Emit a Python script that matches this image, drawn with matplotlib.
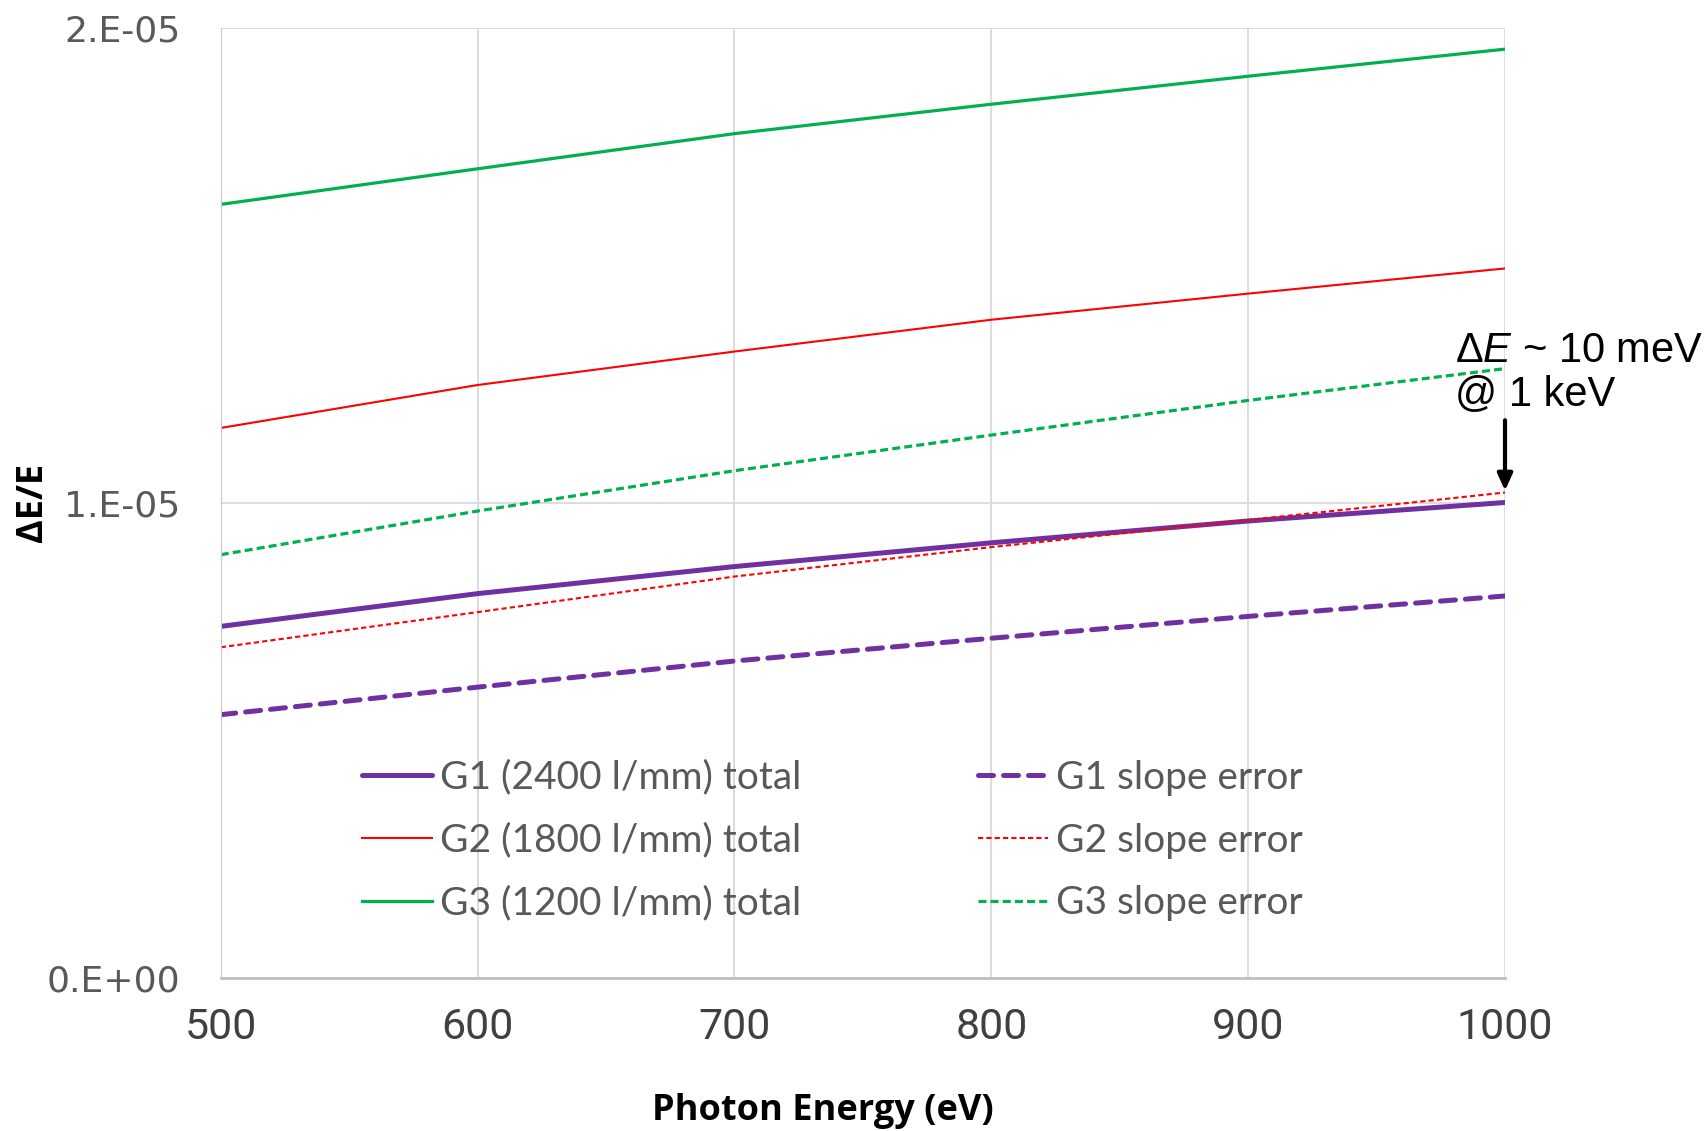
import numpy as np
import matplotlib
matplotlib.use("Agg")
import matplotlib.pyplot as plt

# photon energy (eV) and dE/E values
energy = [500, 600, 700, 800, 900, 1000]
g1_total = [7.40e-6, 8.09e-6, 8.66e-6, 9.16e-6, 9.62e-6, 1.001e-5]
g2_total = [1.158e-5, 1.2485e-5, 1.319e-5, 1.386e-5, 1.441e-5, 1.494e-5]
g3_total = [1.629e-5, 1.704e-5, 1.778e-5, 1.840e-5, 1.899e-5, 1.956e-5]
g1_slope = [5.54e-6, 6.12e-6, 6.67e-6, 7.15e-6, 7.61e-6, 8.04e-6]
g2_slope = [6.96e-6, 7.70e-6, 8.45e-6, 9.07e-6, 9.64e-6, 1.022e-5]
g3_slope = [8.91e-6, 9.83e-6, 1.068e-5, 1.143e-5, 1.216e-5, 1.283e-5]

yticks = [0, 1e-5, 2e-5]
ytick_labels = ["0.E+00", "1.E-05", "2.E-05"]

purple = "#7030A0"
red = "#FF0000"
green = "#00B050"

plt.rcParams["mathtext.fontset"] = "custom"
plt.rcParams["mathtext.rm"] = "Liberation Sans"
plt.rcParams["mathtext.it"] = "Liberation Sans:italic"

fig = plt.figure(figsize=(17.05, 11.31), dpi=100)
ax = fig.add_axes([0.1295, 0.1356, 0.7532, 0.8394])

ax.plot(energy, g1_total, color=purple, lw=3.6, solid_capstyle="round", label="G1 (2400 l/mm) total")
ax.plot(energy, g2_total, color=red, lw=1.5, label="G2 (1800 l/mm) total")
ax.plot(energy, g3_total, color=green, lw=2.3, label="G3 (1200 l/mm) total")
ax.plot(energy, g1_slope, color=purple, lw=3.6, dashes=(3, 2), dash_capstyle="round", label="G1 slope error")
ax.plot(energy, g2_slope, color=red, lw=1.5, dashes=(2.5, 1.5), label="G2 slope error")
ax.plot(energy, g3_slope, color=green, lw=2.3, dashes=(2.5, 1.3), label="G3 slope error")

ax.set_xlim(500, 1000)
ax.set_ylim(0, 2e-5)
ax.set_xticks(energy)
ax.set_yticks(yticks)
ax.set_yticklabels(ytick_labels)
ax.grid(True, color="#d9d9d9", lw=1.3)
ax.set_axisbelow(True)
for s in ["top", "right"]:
    ax.spines[s].set_visible(False)
ax.spines["left"].set_color("#c8c8c8")
ax.spines["bottom"].set_color("#c0c0c0")
ax.spines["bottom"].set_linewidth(2)
ax.tick_params(axis="both", length=0)
ax.tick_params(axis="x", pad=21, labelsize=31, labelcolor="#404040")
ax.tick_params(axis="y", pad=29, labelsize=26, labelcolor="#595959")
for t in ax.get_xticklabels():
    t.set_family("Roboto")
for t in ax.get_yticklabels():
    t.set_family("DejaVu Sans")

fig.text(757 / 1568, 1 - 1022 / 1040, "Photon Energy (eV)", fontsize=26, fontweight="bold",
         family="Open Sans", ha="center", va="center")
fig.text(30 / 1568, 1 - 462 / 1040, "ΔE/E", fontsize=26, fontweight="bold", family="Open Sans",
         rotation=90, ha="center", va="center")

leg = ax.legend(ncol=2, frameon=False, loc="upper left", bbox_to_anchor=(0.095, 0.25),
                prop={"family": "Lato", "size": 28}, labelcolor="#595959", borderpad=0,
                handlelength=1.8, handletextpad=0.2, columnspacing=4.55, labelspacing=0.69)

ax.annotate("", xy=(1000, 1.02e-5), xytext=(1000, 1.18e-5),
            arrowprops=dict(arrowstyle="-|>,head_width=0.45,head_length=1.0", color="black", lw=3))
ax.text(0.961, 0.637, "$\\mathit{ΔE}$ ~ 10 meV\n@ 1 keV", transform=ax.transAxes,
        fontsize=30, family="Liberation Sans", ha="left", va="center", linespacing=1.15, clip_on=False)

fig.savefig("out.png", dpi=100)
